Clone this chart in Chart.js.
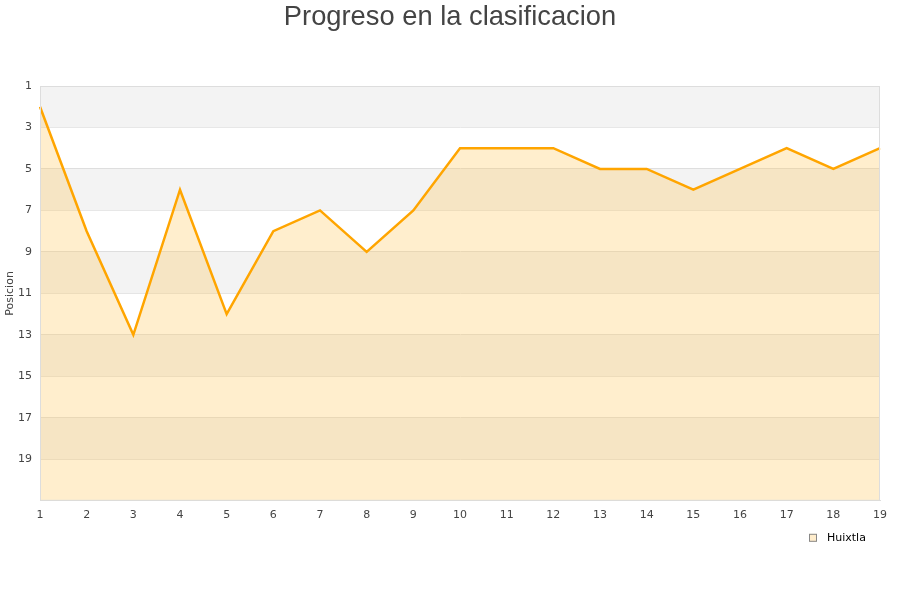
<!DOCTYPE html>
<html>
<head>
<meta charset="utf-8">
<script src="https://cdn.jsdelivr.net/npm/chart.js@4/dist/chart.umd.min.js"></script>
<style>
  html, body { margin: 0; padding: 0; background: #fff; }
  #wrap { width: 900px; height: 600px; }
</style>
</head>
<body>
<div id="wrap"><canvas id="chart" width="900" height="600"></canvas></div>
<script>
// Datos
const jornadas = ['1','2','3','4','5','6','7','8','9','10','11','12','13','14','15','16','17','18','19'];
const posiciones = [2, 8, 13, 6, 12, 8, 7, 9, 7, 4, 4, 4, 5, 5, 6, 5, 4, 5, 4];
const equipo = 'Huixtla';
const titulo = 'Progreso en la clasificacion';
const tickPos = [1, 3, 5, 7, 9, 11, 13, 15, 17, 19];

// Bandas alternas grises, borde del area, titulo y leyenda
const bandas = {
  id: 'bandas',
  beforeDatasetsDraw(chart) {
    const { ctx, chartArea, scales } = chart;
    const y = scales.y;
    ctx.save();
    for (let v = 1; v < 21; v += 4) {
      const y1 = y.getPixelForValue(v);
      const y2 = y.getPixelForValue(v + 2);
      ctx.fillStyle = '#f3f3f3';
      ctx.fillRect(chartArea.left, y1, chartArea.right - chartArea.left, y2 - y1);
    }
    ctx.restore();
  },
  afterDatasetsDraw(chart) {
    const { ctx, chartArea } = chart;
    ctx.save();
    ctx.strokeStyle = '#dddddd';
    ctx.lineWidth = 1;
    ctx.strokeRect(chartArea.left + 0.5, chartArea.top + 0.5,
      chartArea.right - chartArea.left - 1, chartArea.bottom - chartArea.top - 1);
    ctx.restore();
  },
  afterDraw(chart) {
    const { ctx, chartArea } = chart;
    ctx.save();
    // titulo
    ctx.fillStyle = '#444';
    ctx.font = '27.3px "Liberation Sans"';
    ctx.textAlign = 'center';
    ctx.textBaseline = 'middle';
    ctx.fillText(titulo, chart.width / 2, 17);
    // leyenda
    const ly = chartArea.bottom + 37;
    const lx = chartArea.right - 71;
    ctx.fillStyle = '#ffedcc';
    ctx.fillRect(lx, ly - 4, 8, 8);
    ctx.strokeStyle = '#888';
    ctx.lineWidth = 1;
    ctx.strokeRect(lx + 0.5, ly - 3.5, 7, 7);
    ctx.fillStyle = '#000';
    ctx.font = '11px "DejaVu Sans"';
    ctx.textAlign = 'left';
    ctx.fillText(equipo, lx + 18, ly);
    ctx.restore();
  }
};

new Chart(document.getElementById('chart').getContext('2d'), {
  type: 'line',
  data: {
    labels: jornadas,
    datasets: [{
      label: equipo,
      data: posiciones,
      borderColor: '#ffa500',
      backgroundColor: 'rgba(255, 200, 90, 0.3)',
      borderWidth: 2.5,
      fill: 'start',
      tension: 0,
      pointRadius: 0,
      pointHoverRadius: 0
    }]
  },
  options: {
    responsive: false,
    animation: false,
    layout: { padding: { left: 0, right: 20, top: 86, bottom: 70 } },
    plugins: {
      title: { display: false },
      legend: { display: false },
      tooltip: { enabled: false }
    },
    scales: {
      x: {
        offset: false,
        grid: { display: false, drawTicks: false },
        border: { color: '#dddddd' },
        ticks: { color: '#444', font: { family: 'DejaVu Sans', size: 11 }, padding: 8, maxRotation: 0 }
      },
      y: {
        reverse: true,
        min: 1,
        max: 21,
        afterBuildTicks: (axis) => { axis.ticks = tickPos.map(v => ({ value: v })); },
        afterFit: (axis) => { axis.width = 40; },
        grid: { color: '#dddddd', drawTicks: false },
        border: { color: '#dddddd' },
        title: { display: true, text: 'Posicion', color: '#444', font: { family: 'DejaVu Sans', size: 11 }, padding: { top: 4, bottom: 0 } },
        ticks: { color: '#444', font: { family: 'DejaVu Sans', size: 11 }, padding: 8 }
      }
    }
  },
  plugins: [bandas]
});
</script>
</body>
</html>
